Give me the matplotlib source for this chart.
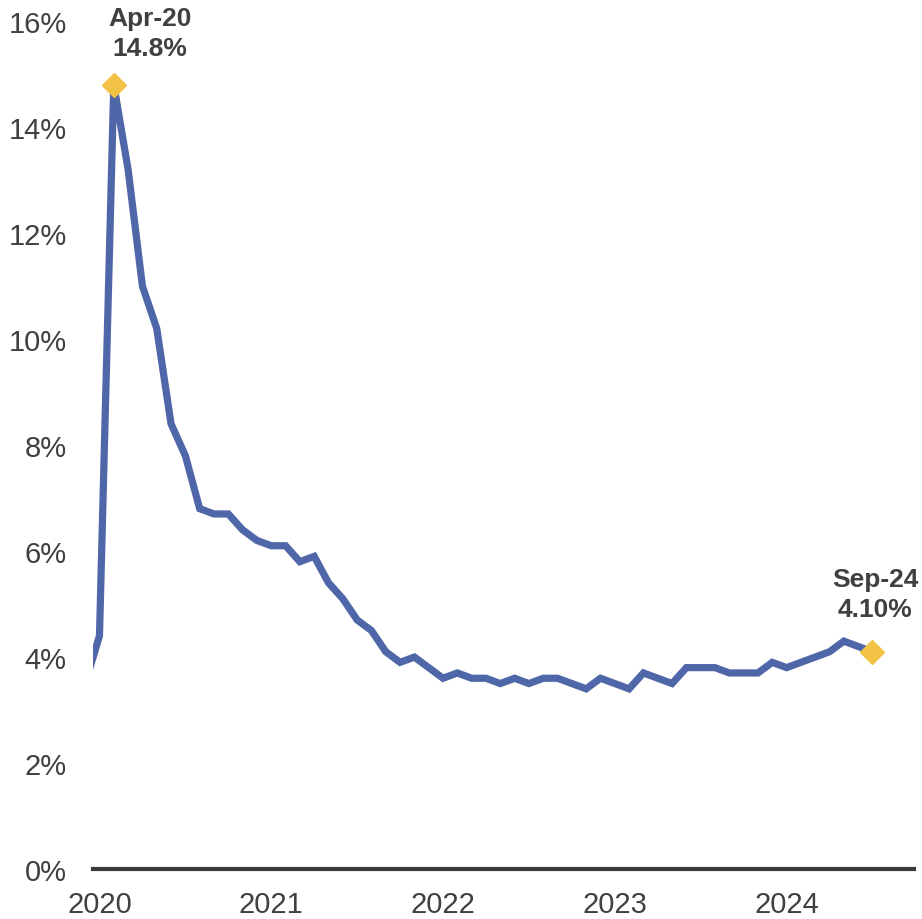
import matplotlib.pyplot as plt

# Monthly unemployment rate, Jan 2020 - Sep 2024 (%)
months = list(range(57))  # 0 = Jan 2020
rate = [3.5, 3.5, 4.4, 14.8, 13.2, 11.0, 10.2, 8.4, 7.8, 6.8, 6.7, 6.7,
        6.4, 6.2, 6.1, 6.1, 5.8, 5.9, 5.4, 5.1, 4.7, 4.5, 4.1, 3.9,
        4.0, 3.8, 3.6, 3.7, 3.6, 3.6, 3.5, 3.6, 3.5, 3.6, 3.6, 3.5,
        3.4, 3.6, 3.5, 3.4, 3.7, 3.6, 3.5, 3.8, 3.8, 3.8, 3.7, 3.7,
        3.7, 3.9, 3.8, 3.9, 4.0, 4.1, 4.3, 4.2, 4.1]

year_ticks = [2, 14, 26, 38, 50]
year_labels = ["2020", "2021", "2022", "2023", "2024"]

highlights = [3, 56]
highlight_labels = ["Apr-20\n14.8%", "Sep-24\n4.10%"]

LINE = "#4F67A8"
GOLD = "#F2C244"
TEXT = "#404040"

plt.rcParams['font.family'] = ['Liberation Sans Narrow', 'Liberation Sans', 'DejaVu Sans']

fig = plt.figure(figsize=(9.22, 9.20), dpi=100)
ax = fig.add_axes([0.1009, 0.0543, 0.8904, 0.9217])

ax.plot(months, rate, color=LINE, linewidth=5.2, solid_joinstyle='miter', zorder=2)
ax.plot([months[i] for i in highlights], [rate[i] for i in highlights],
        linestyle='none', marker='D', markersize=12, color=GOLD, zorder=3, clip_on=False)

# labels on highlighted points
ax.annotate(highlight_labels[0], (months[3], rate[3]), xytext=(26, 18), textcoords='offset points',
            ha='center', va='bottom', fontsize=19, fontweight='bold', color=TEXT,
            family=['Liberation Sans', 'DejaVu Sans'], linespacing=1.3, annotation_clip=False)
ax.annotate(highlight_labels[1], (months[56], rate[56]), xytext=(2, 22), textcoords='offset points',
            ha='center', va='bottom', fontsize=19, fontweight='bold', color=TEXT,
            family=['Liberation Sans', 'DejaVu Sans'], linespacing=1.3, annotation_clip=False)

ax.set_xlim(1.55, 58.9)
ax.set_ylim(0, 16)
ax.set_yticks(range(0, 17, 2))
ax.set_yticklabels([f"{v}%" for v in range(0, 17, 2)])
ax.set_xticks(year_ticks)
ax.set_xticklabels(year_labels)
ax.tick_params(axis='both', length=0, labelsize=21, labelcolor=TEXT)
ax.tick_params(axis='y', pad=19)
ax.tick_params(axis='x', pad=15)

for side in ['top', 'right', 'left']:
    ax.spines[side].set_visible(False)
ax.spines['bottom'].set_color('#3a3a3a')
ax.spines['bottom'].set_linewidth(3)
ax.spines['bottom'].set_zorder(4)

fig.savefig("out.png", dpi=100)
